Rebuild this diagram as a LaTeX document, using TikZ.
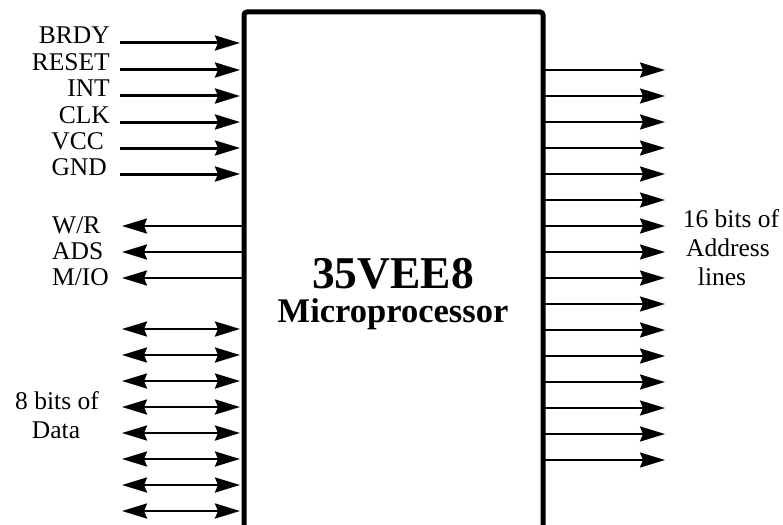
\documentclass[tikz,border=0pt]{standalone}
\usepackage{fontspec}
\setmainfont{Liberation Serif}
\usetikzlibrary{arrows.meta}
\begin{document}
\begin{tikzpicture}[x=1pt,y=-1pt,
  tip/.tip={Stealth[length=25pt,width=15pt,inset=3pt]},
  sig/.style={line width=3pt,-tip},
  outsig/.style={line width=2.6pt,-tip},
  bus/.style={line width=2.6pt,tip-tip},
  addr/.style={line width=2.4pt,-tip},
  lbl/.style={font=\fontsize{25.5}{29}\selectfont,inner sep=0pt},
  chip/.style={line width=5pt,rounded corners=3pt}]
\useasboundingbox (0,0) rectangle (783,524);
% chip outline (open at the bottom)
\coordinate (cbl) at (244,535);
\coordinate (ctl) at (244,12);
\coordinate (ctr) at (543,12);
\coordinate (cbr) at (543,535);
\draw[chip] (cbl) -- (ctl) -- (ctr) -- (cbr);
\node[font=\bfseries\fontsize{45.5}{50}\selectfont,inner sep=0pt,anchor=base] (name) at (393,288) {35VEE8};
\node[font=\bfseries\fontsize{34.5}{38}\selectfont,inner sep=0pt,anchor=base] (sub) at (393,322) {Microprocessor};
% inputs
\foreach \y/\t/\xe [count=\i] in {43/BRDY/110,70/RESET/110,96/INT/110,122/CLK/110,148/VCC/104,174/GND/107}{
  \coordinate (inA\i) at (120,\y);
  \coordinate (inB\i) at (240,\y);
  \draw[sig] (inA\i) -- (inB\i);
  \node[lbl,anchor=base east] (inL\i) at (\xe,\y+1) {\t};
}
% outputs
\foreach \y/\t [count=\i] in {226/W\slash R,252/ADS,278/M\slash IO}{
  \coordinate (oA\i) at (243,\y);
  \coordinate (oB\i) at (122,\y);
  \draw[outsig] (oA\i) -- (oB\i);
  \node[lbl,anchor=base west] (oL\i) at (52,\y+7) {\t};
}
% data bus
\foreach \i in {0,...,7}{
  \coordinate (dA\i) at (122,329+26*\i);
  \coordinate (dB\i) at (240,329+26*\i);
  \draw[bus] (dA\i) -- (dB\i);
}
\node[lbl,anchor=base] (d1) at (57,409) {8 bits of};
\node[lbl,anchor=base] (d2) at (56,438) {Data};
% address bus
\foreach \i in {0,...,15}{
  \coordinate (aA\i) at (545,70+26*\i);
  \coordinate (aB\i) at (665,70+26*\i);
  \draw[addr] (aA\i) -- (aB\i);
}
\node[lbl,anchor=base] (a1) at (731,227) {16 bits of};
\node[lbl,anchor=base] (a2) at (728,256) {Address};
\node[lbl,anchor=base] (a3) at (722,285) {lines};
\end{tikzpicture}
\end{document}
